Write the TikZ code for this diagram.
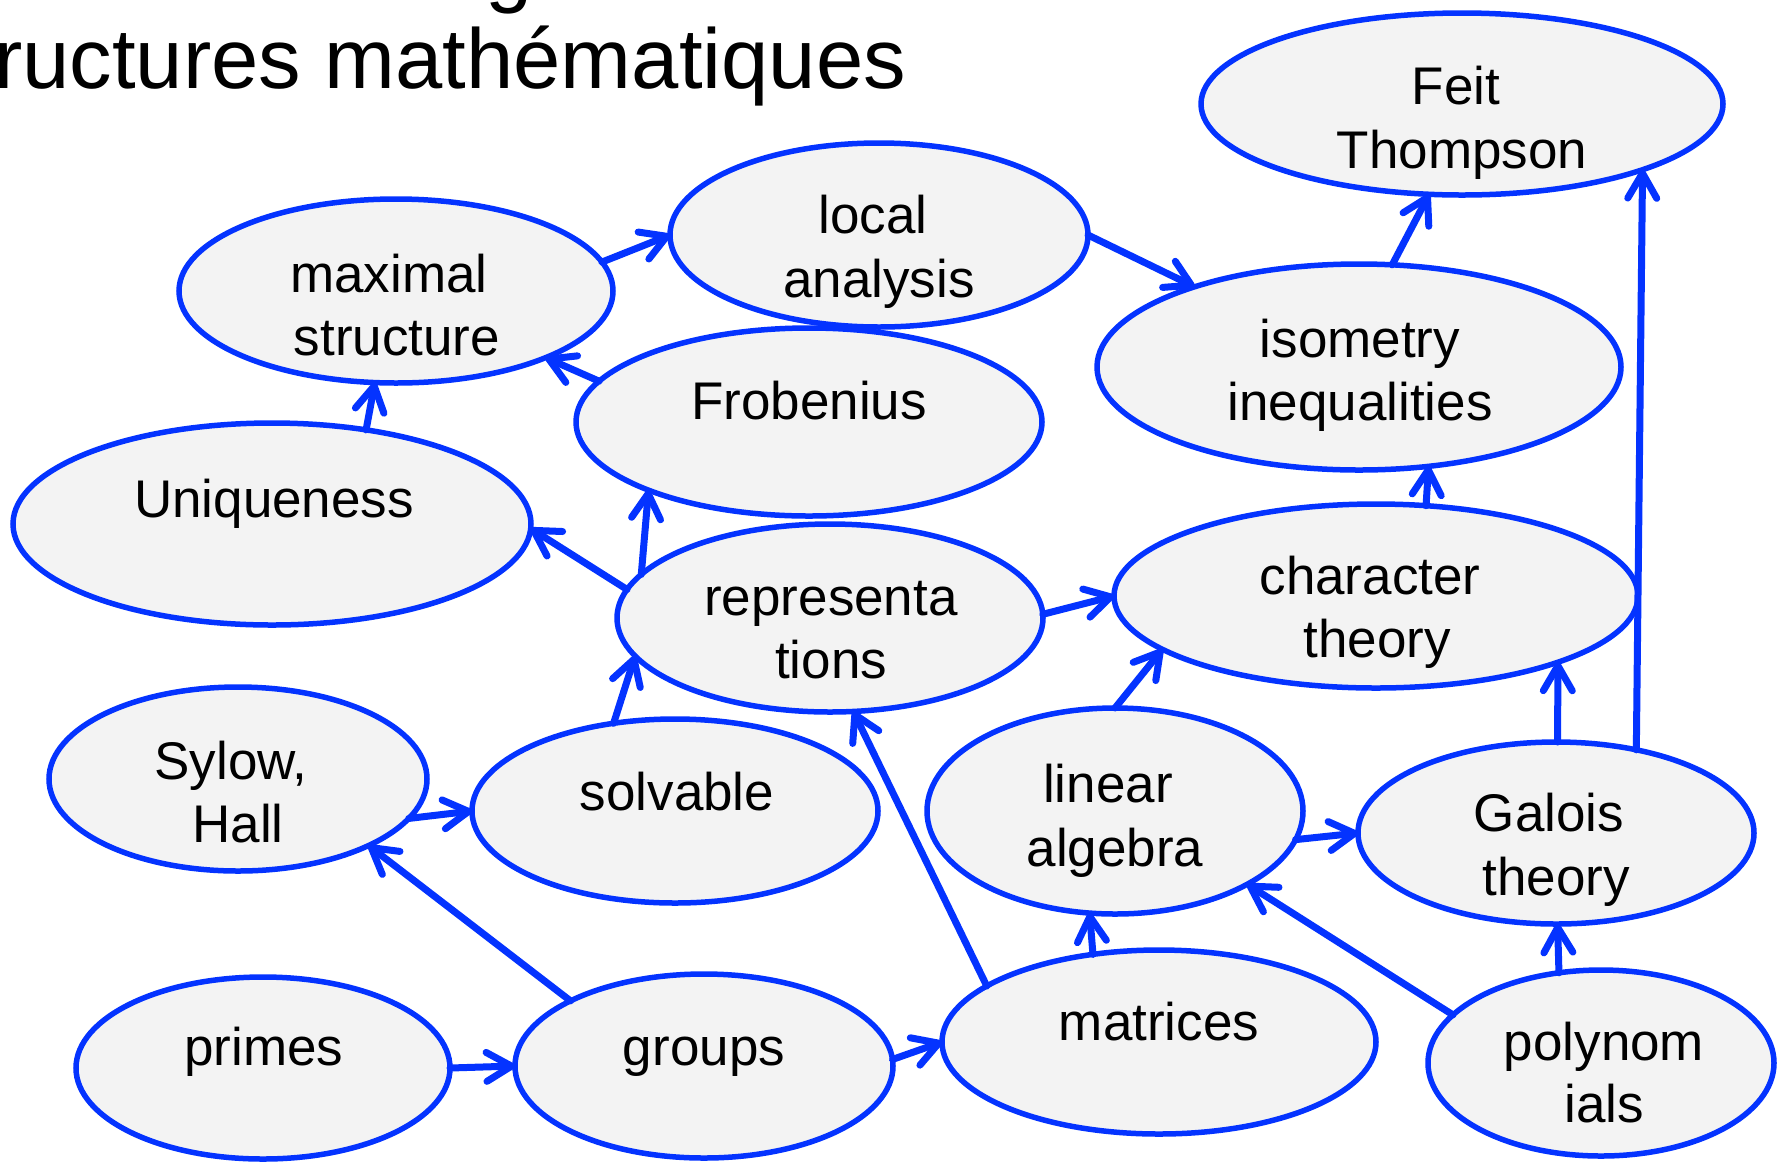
\documentclass[tikz,border=0pt]{standalone}
\usepackage{fontspec}
\setmainfont{Liberation Sans}
\usetikzlibrary{arrows.meta,shapes.geometric}
\definecolor{ublue}{RGB}{4,51,255}
\definecolor{ufill}{RGB}{243,243,243}
\begin{document}
\begin{tikzpicture}[x=1pt,y=-1pt,
  ell/.style={ellipse, draw=ublue, fill=ufill, line width=5.5pt, inner sep=0pt, outer sep=0pt},
  lbl/.style={anchor=base, inner sep=0pt, font=\fontsize{53}{63}\selectfont},
  ttl/.style={anchor=base west, inner sep=0pt, font=\fontsize{85}{100}\selectfont},
  arr/.style={draw=ublue, line width=7pt, line cap=round, -{Straight Barb[round,length=25pt,width=29pt]}}]
\useasboundingbox (0,0) rectangle (1777,1163);
\begin{scope}
\clip (0,0) rectangle (1777,1163);
\node[ttl] (title0) at (485,-4) {g};
\node[ttl] (title) at (-6,88) {ructures mathématiques};
\end{scope}
% ellipses
\node[ell, minimum width=522pt, minimum height=182pt] (ft) at (1462,104) {};
\node[ell, minimum width=434pt, minimum height=184pt] (ms) at (396,291) {};
\node[ell, minimum width=418pt, minimum height=184pt] (la) at (879,235) {};
\node[ell, minimum width=524pt, minimum height=206pt] (ii) at (1359,367) {};
\node[ell, minimum width=466pt, minimum height=188pt] (fr) at (809,422) {};
\node[ell, minimum width=518pt, minimum height=202pt] (un) at (272,524) {};
\node[ell, minimum width=426pt, minimum height=188pt] (re) at (830,618) {};
\node[ell, minimum width=524pt, minimum height=184pt] (ct) at (1376,596) {};
\node[ell, minimum width=378pt, minimum height=184pt] (sh) at (238,779) {};
\node[ell, minimum width=406pt, minimum height=184pt] (so) at (675,811) {};
\node[ell, minimum width=376pt, minimum height=206pt] (li) at (1115,811) {};
\node[ell, minimum width=396pt, minimum height=182pt] (ga) at (1556,833) {};
\node[ell, minimum width=374pt, minimum height=182pt] (pr) at (263,1068) {};
\node[ell, minimum width=378pt, minimum height=184pt] (gr) at (704,1066) {};
\node[ell, minimum width=434pt, minimum height=184pt] (ma) at (1159,1042) {};
\node[ell, minimum width=346pt, minimum height=186pt] (po) at (1601,1063) {};
% labels
\node[lbl] (ft1) at (1456,104) {Feit};
\node[lbl] (ft2) at (1462,168) {Thompson};
\node[lbl] (ms1) at (389,292) {maximal};
\node[lbl] (ms2) at (397,355) {structure};
\node[lbl] (la1) at (873,233) {local};
\node[lbl] (la2) at (879,297) {analysis};
\node[lbl] (ii1) at (1360,357) {isometry};
\node[lbl] (ii2) at (1360,420) {inequalities};
\node[lbl] (fr1) at (809,419) {Frobenius};
\node[lbl] (un1) at (274,517) {Uniqueness};
\node[lbl] (re1) at (831,615) {representa};
\node[lbl] (re2) at (831,678) {tions};
\node[lbl] (ct1) at (1370,594) {character};
\node[lbl] (ct2) at (1377,657) {theory};
\node[lbl] (sh1) at (231,779) {Sylow,};
\node[lbl] (sh2) at (238,842) {Hall};
\node[lbl] (so1) at (677,810) {solvable};
\node[lbl] (li1) at (1108,802) {linear};
\node[lbl] (li2) at (1115,866) {algebra};
\node[lbl] (ga1) at (1549,831) {Galois};
\node[lbl] (ga2) at (1556,895) {theory};
\node[lbl] (pr1) at (264,1065) {primes};
\node[lbl] (gr1) at (704,1065) {groups};
\node[lbl] (ma1) at (1159,1040) {matrices};
\node[lbl] (po1) at (1604,1060) {polynom};
\node[lbl] (po2) at (1604,1122) {ials};
% arrows
\draw[arr] (ms.8) -- (la.180);
\draw[arr] (fr.169) -- (ms.336);
\draw[arr] (un.45) -- (ms.257);
\draw[arr] (la.0) -- (ii.154);
\draw[arr] (ii.72) -- (ft.250);
\draw[arr] (ct.61) -- (ii.305);
\draw[arr] (re.172) -- (un.359);
\draw[arr] (re.167) -- (fr.203);
\draw[arr] (re.1) -- (ct.180);
\draw[arr] (so.125) -- (re.191);
\draw[arr] (sh.347) -- (so.180);
\draw[arr] (gr.154) -- (sh.333);
\draw[arr] (pr.0) -- (gr.180);
\draw[arr] (gr.2) -- (ma.180);
\draw[arr] (ma.162) -- (re.284);
\draw[arr] (ma.127) -- (li.256);
\draw[arr] (li.90) -- (ct.194);
\draw[arr] (li.351) -- (ga.180);
\draw[arr] (po.162) -- (li.331);
\draw[arr] (po.115) -- (ga.271);
\draw[arr] (ga.89) -- (ct.340);
\draw[arr] (ga.46) -- (ft.340);
\end{tikzpicture}
\end{document}
